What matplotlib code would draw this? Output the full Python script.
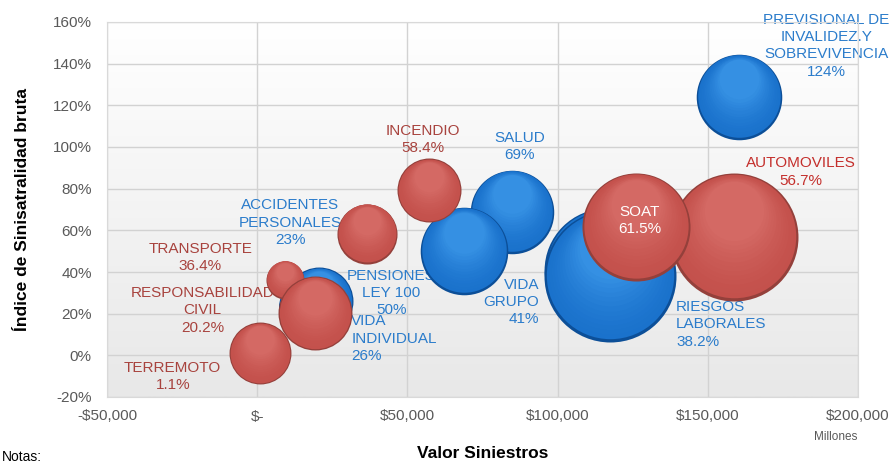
import matplotlib
matplotlib.use('Agg')
import matplotlib.pyplot as plt
import numpy as np
from matplotlib.colors import to_rgb, LinearSegmentedColormap
from matplotlib.transforms import offset_copy
from matplotlib.ticker import FuncFormatter, MultipleLocator

plt.rcParams['font.family'] = ['Liberation Sans', 'DejaVu Sans']

# --- datos (valor siniestros en millones, indice en %, tamano relativo de la burbuja)
azul_nombres = ['ACCIDENTES\nPERSONALES', 'VIDA\nINDIVIDUAL', 'SALUD', 'PENSIONES\nLEY 100',
                'VIDA\nGRUPO', 'RIESGOS\nLABORALES', 'PREVISIONAL DE\nINVALIDEZ.Y\nSOBREVIVENCIA']
azul_siniestros = [17000, 20700, 84700, 68700, 116000, 117300, 160300]
azul_indice = [23, 26, 69, 50, 41, 38.2, 124]
azul_etiqueta = ['23%', '26%', '69%', '50%', '41%', '38.2%', '124%']
azul_tamano = [20, 26.5, 40, 44, 88, 100, 42]

rojo_nombres = ['TERREMOTO', 'TRANSPORTE', 'RESPONSABILIDAD\nCIVIL', 'INCENDIO', None,
                'AUTOMOVILES', 'SOAT']
rojo_siniestros = [1000, 9300, 19300, 36700, 57300, 158700, 126000]
rojo_indice = [1.1, 36.4, 20.2, 58.4, 79.3, 56.7, 61.5]
rojo_etiqueta = ['1.1%', '36.4%', '20.2%', '58.4%', '', '56.7%', '61.5%']
rojo_tamano = [22, 8.3, 31.4, 20.7, 23.5, 94, 67]

x_ticks = [-50000, 0, 50000, 100000, 150000, 200000]

# --- layout de etiquetas: (dx pt, dy pt, alineacion)
azul_pos = [(-13, 61, 'center'), (23, -27, 'left'), (6, 47, 'center'), (-52, -30, 'center'),
            (-48, -23, 'right'), (48, -35, 'left'), (63, 37, 'center')]
rojo_pos = [(-63, -17, 'center'), (-61, 16, 'center'), (-81, 2, 'center'), (40, 68, 'center'),
            None, (48, 47, 'center'), (3, 5, 'center')]

DPI = 100
R_MAX = 66  # px para tamano 100


def mezcla(c1, c2, t):
    a, b = np.array(to_rgb(c1)), np.array(to_rgb(c2))
    return tuple(a + (b - a) * t)


def burbuja(ax, fig, x, y, tam, dark, base, light):
    r = R_MAX * np.sqrt(tam / 100.0) * 72.0 / DPI  # radio en puntos
    ax.scatter([x], [y], s=(2 * r) ** 2, color=dark, lw=0, zorder=3)
    n = 14
    for k in range(n):
        t = k / (n - 1)
        f = 0.965 - 0.5 * t
        up = (0.985 - f) * r * 0.8
        tr = offset_copy(ax.transData, fig=fig, x=0, y=up, units='points')
        ax.scatter([x], [y], s=(2 * r * f) ** 2, color=mezcla(base, light, t ** 1.5),
                   lw=0, zorder=3, transform=tr)


fig = plt.figure(figsize=(8.95, 4.66), dpi=DPI)
ax = fig.add_axes([107 / 895, 1 - 397 / 466, 751 / 895, 375 / 466])

# fondo con degradado (blanco arriba, gris abajo)
cmap = LinearSegmentedColormap.from_list('fondo', ['#ffffff', '#e8e8e8'])
ax.imshow(np.linspace(0, 1, 256).reshape(-1, 1), cmap=cmap, aspect='auto', origin='upper',
          extent=[0, 1, 0, 1], transform=ax.transAxes, zorder=0.1)

ax.set_xlim(-50000, 200000)
ax.set_ylim(-20, 160)
ax.set_xticks(x_ticks)
ax.yaxis.set_major_locator(MultipleLocator(20))
ax.grid(True, color='#d2d2d2', lw=1)
ax.set_axisbelow(True)


def fmt_x(v, pos):
    if v == 0:
        return '$-'
    s = '${:,.0f}'.format(abs(v))
    return '-' + s if v < 0 else s


ax.xaxis.set_major_formatter(FuncFormatter(fmt_x))
ax.yaxis.set_major_formatter(FuncFormatter(lambda v, p: '{:.0f}%'.format(v)))
ax.tick_params(length=0, labelsize=11, labelcolor='#595959')
ax.tick_params(axis='x', pad=9)
ax.tick_params(axis='y', pad=11)
for s in ax.spines.values():
    s.set_color('#d9d9d9')

# burbujas: primero azules, luego rojas
for x, y, t in zip(azul_siniestros, azul_indice, azul_tamano):
    burbuja(ax, fig, x, y, t, '#0c4f98', '#1a72cc', '#3590e3')
for x, y, t in zip(rojo_siniestros, rojo_indice, rojo_tamano):
    burbuja(ax, fig, x, y, t, '#94403b', '#c4514c', '#d46964')

# etiquetas
for nom, x, y, et, p in zip(azul_nombres, azul_siniestros, azul_indice, azul_etiqueta, azul_pos):
    ax.annotate(nom + '\n' + et, (x, y), xytext=(p[0], p[1]), textcoords='offset points',
                ha=p[2], va='center', multialignment=p[2], fontsize=11,
                color='#2b7ccb', linespacing=1.3, zorder=2)
for nom, x, y, et, p in zip(rojo_nombres, rojo_siniestros, rojo_indice, rojo_etiqueta, rojo_pos):
    if nom is None:
        continue
    col = '#a8433e'
    z = 2
    if nom == 'AUTOMOVILES':
        col = '#c42f2c'
    if nom == 'SOAT':
        col = 'white'
        z = 10
    ax.annotate(nom + '\n' + et, (x, y), xytext=(p[0], p[1]), textcoords='offset points',
                ha=p[2], va='center', multialignment=p[2], fontsize=11,
                color=col, linespacing=1.3, zorder=z)

ax.set_ylabel('Índice de Sinisatralidad bruta', fontsize=12.5, fontweight='bold', labelpad=16)
ax.set_xlabel('Valor Siniestros', fontsize=12.5, fontweight='bold', labelpad=16)
fig.text(836 / 895, 1 - 437 / 466, 'Millones', fontsize=8.5, color='#595959',
         ha='center', va='center')
fig.text(0.002, 0.004, 'Notas:', fontsize=10, ha='left', va='bottom')

fig.savefig('out.png', dpi=DPI)
